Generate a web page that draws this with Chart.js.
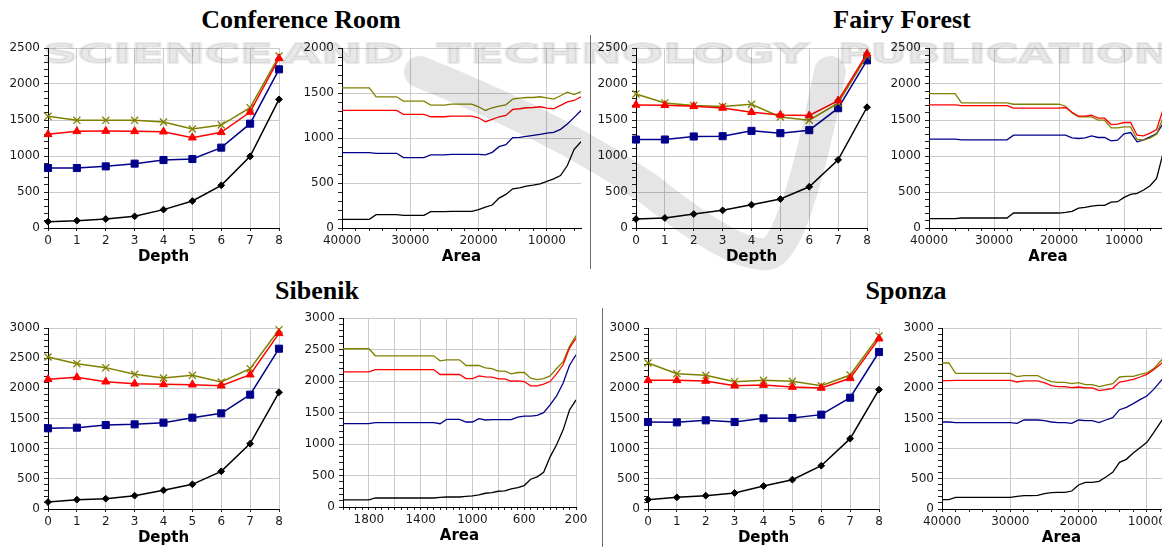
<!DOCTYPE html>
<html><head><meta charset="utf-8">
<script src="https://cdn.jsdelivr.net/npm/chart.js@4/dist/chart.umd.min.js"></script>
<style>
html,body{margin:0;padding:0;width:1162px;height:547px;overflow:hidden;background:#fff;}
body{position:relative;}
canvas.c{position:absolute;}
.title{position:absolute;font-family:'Liberation Serif','Times New Roman',serif;font-weight:bold;font-size:26px;line-height:26px;white-space:nowrap;text-align:center;width:400px;color:#000;}
.sep{position:absolute;width:1px;background:#6f6f6f;}
.wm{position:absolute;top:40px;font-family:'DejaVu Sans',sans-serif;font-weight:bold;font-size:27px;line-height:27px;white-space:nowrap;color:rgba(0,0,0,0.09);-webkit-text-stroke:2px rgba(0,0,0,0.07);pointer-events:none;z-index:5;transform-origin:0 0;letter-spacing:0;}
svg.sw{position:absolute;left:0;top:0;pointer-events:none;z-index:4;}
</style></head><body>
<div class="title" style="left:101px;top:7px;">Conference Room</div>
<div class="title" style="left:702px;top:7px;">Fairy Forest</div>
<div class="title" style="left:117px;top:278px;">Sibenik</div>
<div class="title" style="left:706px;top:278px;">Sponza</div>
<div class="sep" style="left:590px;top:35px;height:234px;"></div>
<div class="sep" style="left:602px;top:308px;height:239px;"></div>
<div class="wm" data-w="230" style="left:43px;">SCIENCE</div>
<div class="wm" data-w="122" style="left:282px;">AND</div>
<div class="wm" data-w="372" style="left:437px;">TECHNOLOGY</div>
<div class="wm" data-w="365" style="left:838px;">PUBLICATIONS</div>
<svg class="sw" width="1162" height="547"><path d="M 420 72 Q 560 128 650 190 Q 735 258 768 254 Q 795 248 830 72" fill="none" stroke="rgba(0,0,0,0.10)" stroke-width="32" stroke-linecap="round"/></svg>
<script>
// ---------- data ----------
const depthLevels = [0,1,2,3,4,5,6,7,8];

const confDepthOlive = [1551,1495,1495,1495,1472,1375,1430,1671,2389];
const confDepthRed   = [1301,1343,1347,1343,1338,1255,1329,1611,2356];
const confDepthBlue  = [833,833,856,894,944,958,1116,1449,2204];
const confDepthBlack = [88,102,125,162,255,375,593,995,1787];

const fairyDepthOlive = [1862,1737,1700,1687,1719,1543,1497,1733,2390];
const fairyDepthRed   = [1710,1705,1691,1668,1608,1571,1562,1770,2420];
const fairyDepthBlue  = [1229,1229,1271,1275,1349,1317,1359,1664,2329];
const fairyDepthBlack = [125,139,194,245,323,402,573,947,1677];

const sibenikDepthOlive = [2519,2409,2343,2232,2171,2215,2105,2326,2972];
const sibenikDepthRed   = [2149,2182,2110,2077,2066,2061,2044,2226,2912];
const sibenikDepthBlue  = [1337,1348,1392,1403,1431,1514,1586,1895,2657];
const sibenikDepthBlack = [116,155,171,221,309,409,624,1083,1934];

const sponzaDepthOlive = [2420,2243,2215,2110,2133,2116,2044,2221,2867];
const sponzaDepthRed   = [2133,2133,2122,2044,2055,2022,2006,2166,2823];
const sponzaDepthBlue  = [1442,1436,1470,1442,1503,1508,1564,1845,2602];
const sponzaDepthBlack = [155,193,221,265,381,486,718,1166,1978];

const confAreaX = [40000,39000,38000,37000,36000,35000,34000,33000,32000,31000,30000,29000,28000,27000,26000,25000,24000,23000,22000,21000,20000,19000,18000,17000,16000,15000,14000,13000,12000,11000,10000,9000,8000,7000,6000,5000];
const confAreaOlive = [1557,1557,1557,1557,1557,1458,1458,1458,1458,1410,1410,1410,1410,1365,1365,1365,1376,1376,1376,1376,1347,1306,1336,1354,1369,1432,1443,1450,1450,1458,1446,1432,1469,1509,1483,1517];
const confAreaRed   = [1306,1306,1306,1306,1306,1306,1306,1306,1306,1262,1262,1262,1262,1236,1236,1236,1244,1244,1244,1244,1225,1181,1207,1236,1251,1317,1325,1336,1339,1347,1332,1325,1362,1402,1417,1458];
const confAreaBlue  = [838,838,838,838,838,830,830,830,830,782,782,782,782,812,812,812,819,819,819,819,819,812,841,904,926,1004,1007,1018,1030,1041,1055,1063,1096,1155,1229,1306];
const confAreaBlack = [96,96,96,96,96,148,148,148,148,140,140,140,140,181,181,183,185,185,185,185,203,232,255,332,373,435,446,465,476,491,517,546,583,694,875,959];

const fairyAreaX = [40000,39000,38000,37000,36000,35000,34000,33000,32000,31000,30000,29000,28000,27000,26000,25000,24000,23000,22000,21000,20000,19000,18000,17000,16000,15000,14000,13000,12000,11000,10000,9000,8000,7000,6000,5000,4000];
const fairyAreaOlive = [1867,1867,1867,1867,1867,1737,1737,1737,1737,1737,1737,1737,1737,1719,1719,1719,1719,1719,1719,1719,1719,1691,1599,1543,1543,1543,1497,1497,1391,1391,1405,1405,1229,1220,1252,1303,1530];
const fairyAreaRed   = [1710,1710,1710,1710,1710,1700,1700,1700,1700,1700,1700,1700,1700,1664,1664,1664,1664,1664,1664,1664,1664,1673,1608,1553,1553,1566,1525,1525,1437,1442,1465,1465,1289,1280,1317,1368,1645];
const fairyAreaBlue  = [1234,1234,1234,1234,1234,1225,1225,1225,1225,1225,1225,1225,1225,1289,1289,1289,1289,1289,1289,1289,1289,1289,1252,1243,1252,1280,1257,1257,1211,1220,1308,1326,1197,1225,1266,1312,1450];
const fairyAreaBlack = [129,129,129,129,129,139,139,139,139,139,139,139,139,208,208,208,208,208,208,208,208,217,231,277,287,305,314,314,360,365,425,467,481,527,587,689,1040];

const sibenikAreaX = [2000,1950,1900,1850,1800,1750,1700,1650,1600,1550,1500,1450,1400,1350,1300,1250,1200,1150,1100,1050,1000,950,900,850,800,750,700,650,600,550,500,450,400,350,300,250,200];
const sibenikAreaOlive = [2512,2512,2512,2512,2512,2400,2400,2400,2400,2400,2400,2400,2400,2400,2400,2320,2336,2336,2336,2246,2246,2246,2209,2198,2156,2156,2113,2135,2135,2044,2023,2039,2081,2198,2304,2549,2719];
const sibenikAreaRed   = [2145,2145,2145,2145,2145,2182,2182,2182,2182,2182,2182,2182,2182,2182,2182,2103,2103,2103,2103,2039,2039,2081,2066,2060,2034,2034,1996,2002,1991,1922,1922,1949,1991,2113,2257,2522,2676];
const sibenikAreaBlue  = [1322,1322,1322,1322,1322,1338,1338,1338,1338,1338,1338,1338,1338,1338,1338,1322,1391,1391,1391,1349,1349,1402,1381,1386,1386,1386,1386,1428,1444,1444,1455,1497,1620,1763,1965,2251,2416];
const sibenikAreaBlack = [112,112,112,112,112,143,143,143,143,143,143,143,143,143,143,154,159,159,159,170,175,191,218,228,250,255,287,308,340,441,478,552,796,988,1221,1540,1699];

const sponzaAreaX = [40000,39000,38000,37000,36000,35000,34000,33000,32000,31000,30000,29000,28000,27000,26000,25000,24000,23000,22000,21000,20000,19000,18000,17000,16000,15000,14000,13000,12000,11000,10000,9000,8000,7000];
const sponzaAreaOlive = [2420,2420,2249,2249,2249,2249,2249,2249,2249,2249,2249,2193,2210,2210,2210,2155,2110,2099,2099,2077,2094,2061,2061,2028,2055,2077,2188,2199,2199,2232,2254,2326,2448,2560];
const sponzaAreaRed   = [2127,2127,2133,2133,2133,2133,2133,2133,2133,2133,2133,2105,2122,2122,2122,2094,2044,2028,2028,2011,2022,2006,2006,1961,1978,2000,2105,2122,2149,2188,2232,2309,2398,2500];
const sponzaAreaBlue  = [1442,1442,1431,1431,1431,1431,1431,1431,1431,1431,1431,1420,1475,1475,1475,1464,1442,1431,1431,1420,1475,1464,1464,1431,1475,1514,1646,1685,1746,1812,1873,1983,2116,2250];
const sponzaAreaBlack = [155,155,193,193,193,193,193,193,193,193,193,210,221,221,227,254,271,276,276,298,398,442,442,459,530,608,773,823,928,1017,1105,1265,1436,1600];

// tick label values
const yLabels2500 = [0,500,1000,1500,2000,2500];
const yLabels2000 = [0,500,1000,1500,2000];
const yLabels3000 = [0,500,1000,1500,2000,2500,3000];
const areaLabelsLarge = [10000,20000,30000,40000];
const areaLabelsSibenik = [200,600,1000,1400,1800];
const areaGridSibenik = [200,400,600,800,1000,1200,1400,1600,1800,2000];

// ---------- watermark word widths ----------
document.querySelectorAll('.wm').forEach(el => {
  const target = parseFloat(el.dataset.w);
  const w = el.getBoundingClientRect().width;
  el.style.transform = 'scaleX(' + (target / w) + ')';
});

// ---------- styling ----------
const OLIVE = '#808000', RED = '#ff0000', BLUE = '#00008b', BLACK = '#000000';
const GRID = '#cacaca';
const TICKFONT = {family:'DejaVu Sans', size:12};
const TITLEFONT = {family:'DejaVu Sans', size:15, weight:'bold'};
const YW = 46, PT = 12, PR = 14, XH = 42;

function range(a, b, s){ const r=[]; for(let v=a; v<=b+1e-9; v+=s) r.push(v); return r; }
function pts(xs, ys){ return xs.map((x,i)=>({x:x, y:ys[i]})); }

function depthSets(o,r,b,k){
  const base = {borderWidth:1.5, tension:0, clip:false, pointBorderWidth:1};
  return [
    Object.assign({}, base, {data:pts(depthLevels,r), borderColor:RED, backgroundColor:RED, pointBackgroundColor:RED, pointBorderColor:RED, pointStyle:'triangle', pointRadius:4.6}),
    Object.assign({}, base, {data:pts(depthLevels,o), borderColor:OLIVE, backgroundColor:OLIVE, pointBackgroundColor:OLIVE, pointBorderColor:OLIVE, pointStyle:'crossRot', pointRadius:5, pointBorderWidth:1.3}),
    Object.assign({}, base, {data:pts(depthLevels,b), borderColor:BLUE, backgroundColor:BLUE, pointBackgroundColor:BLUE, pointBorderColor:BLUE, pointStyle:'rect', pointRadius:5}),
    Object.assign({}, base, {data:pts(depthLevels,k), borderColor:BLACK, backgroundColor:BLACK, pointBackgroundColor:BLACK, pointBorderColor:BLACK, pointStyle:'rectRot', pointRadius:3.4})
  ];
}
function areaSets(xs,o,r,b,k){
  const base = {borderWidth:1.3, tension:0, pointRadius:0};
  return [
    Object.assign({}, base, {data:pts(xs,r), borderColor:RED}),
    Object.assign({}, base, {data:pts(xs,o), borderColor:OLIVE}),
    Object.assign({}, base, {data:pts(xs,b), borderColor:BLUE}),
    Object.assign({}, base, {data:pts(xs,k), borderColor:BLACK})
  ];
}

function makeChart(box, xc, yc, datasets){
  const W = YW + (box.R - box.L) + PR;
  const H = PT + (box.B - box.T) + XH;
  const cv = document.createElement('canvas');
  cv.className = 'c';
  cv.width = W; cv.height = H;
  cv.style.left = (box.L - YW) + 'px';
  cv.style.top = (box.T - PT) + 'px';
  cv.style.width = W + 'px'; cv.style.height = H + 'px';
  document.body.appendChild(cv);
  const inList = (list, v) => list.some(q => Math.abs(q - v) < 1e-6);
  new Chart(cv.getContext('2d'), {
    type:'line',
    data:{datasets:datasets},
    options:{
      responsive:false, animation:false, events:[],
      layout:{padding:{left:0, right:PR, top:PT, bottom:0}},
      plugins:{legend:{display:false}, tooltip:{enabled:false}},
      scales:{
        x:{
          type:'linear', min:xc.min, max:xc.max, reverse:!!xc.reverse,
          afterBuildTicks: s => { s.ticks = range(xc.tickMin, xc.max, xc.step).map(v=>({value:v})); },
          afterFit: s => { s.height = XH; },
          grid:{color: c => inList(xc.grid, c.tick.value) ? GRID : 'rgba(0,0,0,0)', tickColor:'#222', tickLength:3, lineWidth:1},
          border:{color:'#000', width:1},
          ticks:{autoSkip:false, maxRotation:0, minRotation:0, padding:3, font:TICKFONT, color:'#1a1a1a',
                 callback: v => inList(xc.labels, v) ? String(v) : ''},
          title:{display:true, text:xc.title, font:TITLEFONT, color:'#000', padding:{top:0,bottom:4}}
        },
        y:{
          type:'linear', min:0, max:yc.max,
          afterBuildTicks: s => { s.ticks = range(0, yc.max, 100).map(v=>({value:v})); },
          afterFit: s => { s.width = YW; },
          grid:{color: c => inList(yc.labels, c.tick.value) ? GRID : 'rgba(0,0,0,0)', tickColor:'#222', tickLength:4, lineWidth:1},
          border:{color:'#000', width:1},
          ticks:{autoSkip:false, padding:4, font:TICKFONT, color:'#1a1a1a',
                 callback: v => inList(yc.labels, v) ? String(v) : ''}
        }
      }
    }
  });
}

const depthX = {min:0, max:8, tickMin:0, step:1, grid:depthLevels, labels:depthLevels, title:'Depth'};

makeChart({L:48,R:279,T:48,B:228}, depthX, {max:2500, labels:yLabels2500},
  depthSets(confDepthOlive, confDepthRed, confDepthBlue, confDepthBlack));
makeChart({L:342,R:581,T:48,B:228},
  {min:5000, max:40000, tickMin:6000, step:2000, reverse:true, grid:areaLabelsLarge, labels:areaLabelsLarge, title:'Area'},
  {max:2000, labels:yLabels2000},
  areaSets(confAreaX, confAreaOlive, confAreaRed, confAreaBlue, confAreaBlack));
makeChart({L:636,R:867,T:48,B:228}, depthX, {max:2500, labels:yLabels2500},
  depthSets(fairyDepthOlive, fairyDepthRed, fairyDepthBlue, fairyDepthBlack));
makeChart({L:929,R:1167,T:48,B:228},
  {min:3400, max:40000, tickMin:4000, step:2000, reverse:true, grid:areaLabelsLarge, labels:areaLabelsLarge, title:'Area'},
  {max:2500, labels:yLabels2500},
  areaSets(fairyAreaX, fairyAreaOlive, fairyAreaRed, fairyAreaBlue, fairyAreaBlack));
makeChart({L:48,R:279,T:328,B:509}, depthX, {max:3000, labels:yLabels3000},
  depthSets(sibenikDepthOlive, sibenikDepthRed, sibenikDepthBlue, sibenikDepthBlack));
makeChart({L:343,R:576,T:318,B:507},
  {min:200, max:2000, tickMin:200, step:50, reverse:true, grid:areaGridSibenik, labels:areaLabelsSibenik, title:'Area'},
  {max:3000, labels:yLabels3000},
  areaSets(sibenikAreaX, sibenikAreaOlive, sibenikAreaRed, sibenikAreaBlue, sibenikAreaBlack));
makeChart({L:648,R:879,T:328,B:509}, depthX, {max:3000, labels:yLabels3000},
  depthSets(sponzaDepthOlive, sponzaDepthRed, sponzaDepthBlue, sponzaDepthBlack));
makeChart({L:942,R:1181,T:328,B:509},
  {min:5000, max:40000, tickMin:6000, step:2000, reverse:true, grid:areaLabelsLarge, labels:areaLabelsLarge, title:'Area'},
  {max:3000, labels:yLabels3000},
  areaSets(sponzaAreaX, sponzaAreaOlive, sponzaAreaRed, sponzaAreaBlue, sponzaAreaBlack));
</script>
</body></html>
